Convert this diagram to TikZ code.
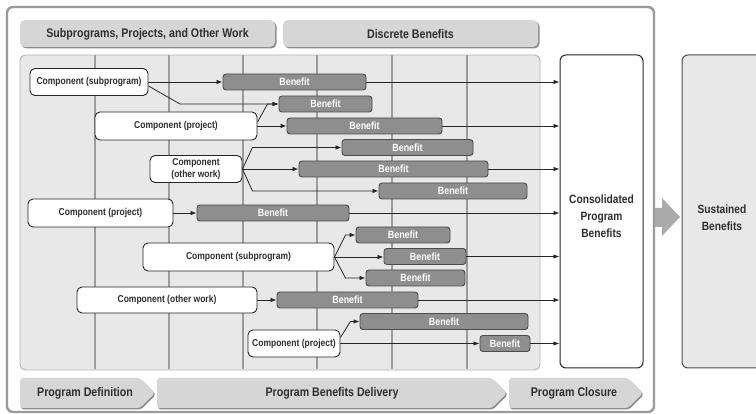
\documentclass[tikz,border=0pt]{standalone}
\usepackage{fontspec}
\setmainfont[FakeStretch=0.85]{Liberation Sans}
\usetikzlibrary{arrows.meta,calc}
\definecolor{framegray}{HTML}{9A9A9A}
\definecolor{panelgray}{HTML}{E8E8E8}
\definecolor{panelline}{HTML}{B5B5B5}
\definecolor{gridgray}{HTML}{9C9C9C}
\definecolor{headgray}{HTML}{D6D6D6}
\definecolor{shadowgray}{HTML}{8C8C8C}
\definecolor{bengray}{HTML}{8E8E8E}
\definecolor{txtgray}{HTML}{2E2E2E}
\definecolor{arrowgray}{HTML}{ABABAB}
\begin{document}
\begin{tikzpicture}[x=1pt,y=-1pt,
  comp/.style={draw=black!85, fill=white, rounded corners=5pt, line width=0.9pt, inner sep=0pt,
    font=\bfseries\fontsize{10}{11.5}\selectfont, text=txtgray, align=center},
  ben/.style={draw=black!70, fill=bengray, rounded corners=3pt, line width=0.9pt, inner sep=0pt,
    minimum height=16pt, font=\bfseries\fontsize{10.5}{11}\selectfont, text=white},
  conn/.style={line width=0.8pt, draw=black!85, -{Latex[length=6pt,width=4.5pt]}},
  headbox/.style={fill=headgray, rounded corners=5pt},
  headshadow/.style={fill=shadowgray, rounded corners=5pt},
  headtext/.style={font=\bfseries\fontsize{12.5}{14}\selectfont, text=txtgray, inner sep=0pt},
  bigtext/.style={font=\bfseries\fontsize{12}{17}\selectfont, text=txtgray, align=center, inner sep=0pt},
  gridline/.style={draw=gridgray, line width=1.1pt}
]
\useasboundingbox (0,0) rectangle (756,414);
\clip (0,0) rectangle (756,414);
\fill[white] (0,0) rectangle (756,414);

% outer frame
\draw[draw=framegray, line width=2.4pt, fill=white, rounded corners=6pt] (7,7) rectangle (654,412);

% header boxes
\fill[headshadow] (21.5,21.5) rectangle (276.5,48.5);
\fill[headbox] (20,20) rectangle (275,47);
\node[headtext] (h1) at (147.5,34) {Subprograms, Projects, and Other Work};
\fill[headshadow] (284.5,21.5) rectangle (539.5,48.5);
\fill[headbox] (283,20) rectangle (538,47);
\node[headtext] (h2) at (410.5,34) {Discrete Benefits};

% grid panel
\draw[fill=panelgray, draw=panelline, line width=0.9pt, rounded corners=6pt] (20,55) rectangle (540,370);
\foreach \gx in {95,169,243,317,392,467} {
  \draw[gridline] (\gx,55.5) -- (\gx,369.5);
}

% consolidated box
\node[draw=black!85, fill=white, rounded corners=6pt, line width=1pt, minimum width=83pt, minimum height=313pt, inner sep=0pt] (cons) at (601.5,211.5) {};
\node[bigtext] (constext) at (601.5,216) {Consolidated\\Program\\Benefits};

% big arrow
\fill[arrowgray] (655,208) -- (662,208) -- (662,198) -- (680,217) -- (662,236) -- (662,227) -- (655,227) -- cycle;

% sustained box
\draw[fill=panelgray, draw=black!70, line width=1pt, rounded corners=6pt] (682,55) rectangle (790,368);
\node[bigtext] (sust) at (722,218) {Sustained\\Benefits};

% phase chevrons
\fill[shadowgray, rounded corners=3pt] (21,379.5) -- (141,379.5) -- (156,394.5) -- (141,409.5) -- (21,409.5) -- cycle;
\fill[headgray, rounded corners=3pt] (20,378) -- (140,378) -- (155,393) -- (140,408) -- (20,408) -- cycle;
\fill[shadowgray, rounded corners=3pt] (158,379.5) -- (493,379.5) -- (508,394.5) -- (493,409.5) -- (158,409.5) -- cycle;
\fill[headgray, rounded corners=3pt] (157,378) -- (492,378) -- (507,393) -- (492,408) -- (157,408) -- cycle;
\fill[shadowgray, rounded corners=3pt] (510,379.5) -- (629,379.5) -- (644,394.5) -- (629,409.5) -- (510,409.5) -- cycle;
\fill[headgray, rounded corners=3pt] (509,378) -- (628,378) -- (643,393) -- (628,408) -- (509,408) -- cycle;
\node[headtext] (p1) at (85,393) {Program Definition};
\node[headtext] (p2) at (332,393) {Program Benefits Delivery};
\node[headtext] (p3) at (574,393) {Program Closure};

% components
\node[comp, minimum width=118pt, minimum height=27pt] (C1) at (89,82) {Component (subprogram)};
\node[comp, minimum width=162pt, minimum height=28pt] (C2) at (176,126) {Component (project)};
\node[comp, minimum width=92pt, minimum height=27pt] (C3) at (196,169) {Component\\(other work)};
\node[comp, minimum width=145pt, minimum height=28pt] (C4) at (100.5,213) {Component (project)};
\node[comp, minimum width=191pt, minimum height=28pt] (C5) at (238.5,257) {Component (subprogram)};
\node[comp, minimum width=180pt, minimum height=26pt] (C6) at (167,300) {Component (other work)};
\node[comp, minimum width=92pt, minimum height=27pt] (C7) at (294,343.5) {Component (project)};

% benefits
\node[ben, minimum width=143pt] (B1) at (294.5,82) {Benefit};
\node[ben, minimum width=93pt] (B2) at (325.5,104) {Benefit};
\node[ben, minimum width=155pt] (B3) at (364.5,126) {Benefit};
\node[ben, minimum width=131pt] (B4) at (407.5,147.5) {Benefit};
\node[ben, minimum width=189pt] (B5) at (393.5,169) {Benefit};
\node[ben, minimum width=148pt] (B6) at (453,191) {Benefit};
\node[ben, minimum width=152pt] (B7) at (273,213) {Benefit};
\node[ben, minimum width=94pt] (B8) at (403,235) {Benefit};
\node[ben, minimum width=82pt] (B9) at (425,256.5) {Benefit};
\node[ben, minimum width=99pt] (B10) at (415.5,278) {Benefit};
\node[ben, minimum width=141pt] (B11) at (347.5,300) {Benefit};
\node[ben, minimum width=168pt] (B12) at (444,321.5) {Benefit};
\node[ben, minimum width=50pt] (B13) at (505,343.5) {Benefit};

% bend points
\coordinate (k1) at (180,104);
\coordinate (k2) at ($(B2.west)+(-11,0)$);
\coordinate (c3r) at ($(C3.east)+(10,0)$);
\coordinate (c5r) at ($(C5.east)+(11,0)$);
\coordinate (c7r) at ($(C7.east)+(10,0)$);

% connectors component -> benefit
\draw[conn] (C1.east) -- (B1.west);
\draw[conn] ($(C1.east)+(0,4)$) -- (k1) -- (B2.west);
\draw[conn] ($(C2.east)+(0,-4)$) -- (k2) -- (B2.west);
\draw[conn] (C2.east) -- (B3.west);
\draw[conn] (C3.east) -- (c3r |- B4.west) -- (B4.west);
\draw[conn] (C3.east) -- (B5.west);
\draw[conn] (C3.east) -- (c3r |- B6.west) -- (B6.west);
\draw[conn] (C4.east) -- (B7.west);
\draw[conn] (C5.east) -- (c5r |- B8.west) -- (B8.west);
\draw[conn] (C5.east) -- (C5.east -| B9.west);
\draw[conn] (C5.east) -- (c5r |- B10.west) -- (B10.west);
\draw[conn] (C6.east) -- (B11.west);
\draw[conn] ($(C7.east)+(0,-6)$) -- (c7r |- B12.west) -- (B12.west);
\draw[conn] (C7.east) -- (C7.east -| B13.west);

% benefit -> consolidated
\foreach \b in {B1,B3,B5,B7,B9,B11,B13} {
  \draw[conn] (\b.east) -- (\b.east -| cons.west);
}
\end{tikzpicture}
\end{document}
